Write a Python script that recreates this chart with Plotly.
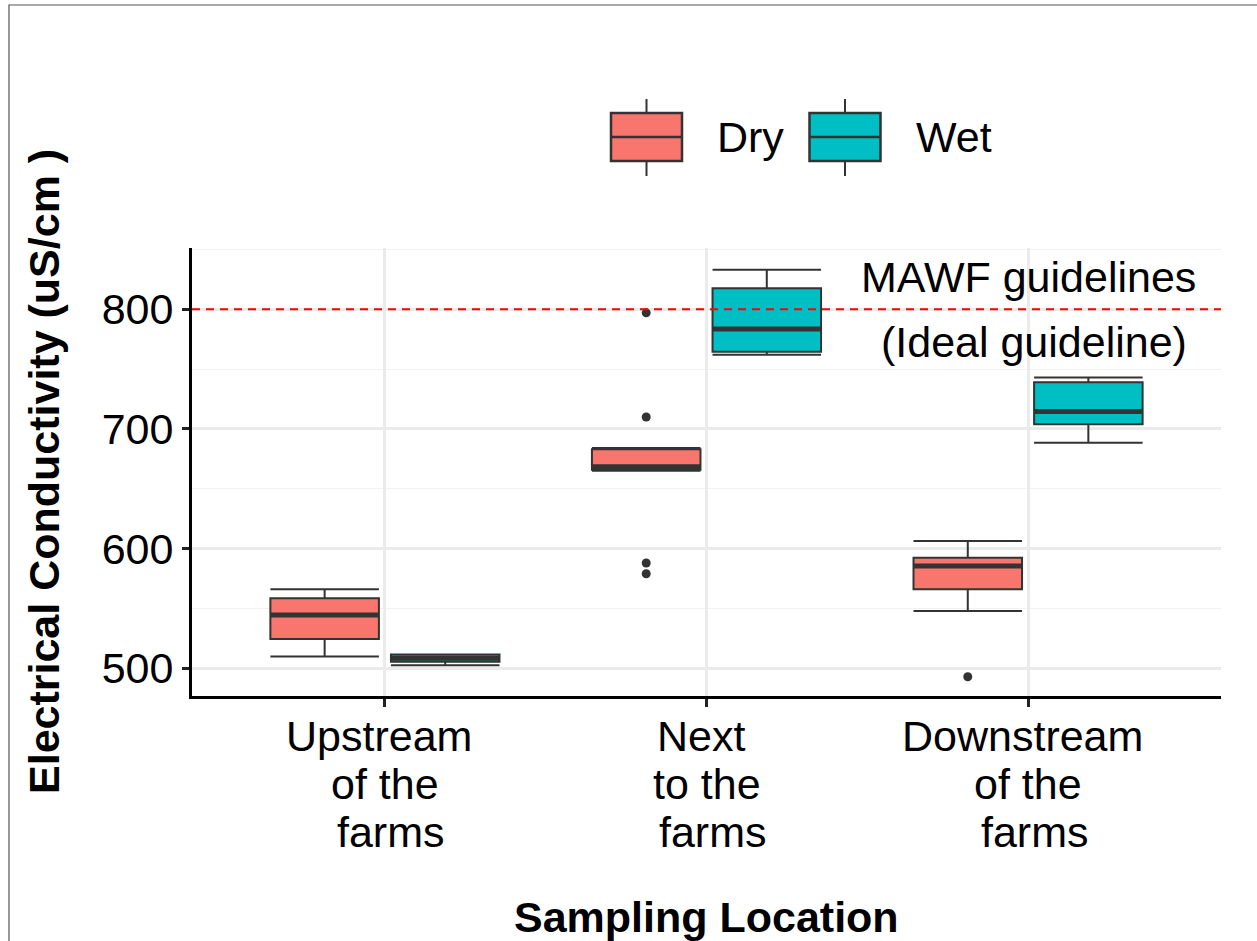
import plotly.graph_objects as go

# Sampling locations (x categories); each label is split into lines below
CATEGORIES = ["Upstream \nof the\n farms", "Next \nto the\n farms", "Downstream \nof the\n farms"]
SEASONS = ["Dry", "Wet"]

# Five-number summaries of electrical conductivity (uS/cm) per location
DRY_LOWER = [510, 665, 548]
DRY_Q1 = [524.5, 666, 566]
DRY_MEDIAN = [544.5, 668.5, 585.5]
DRY_Q3 = [558.5, 683, 592.5]
DRY_UPPER = [566, 684, 606.5]
DRY_OUTLIERS = [[], [797, 710, 588, 579], [493]]

WET_LOWER = [502.5, 762, 688.5]
WET_Q1 = [505.5, 764.5, 704]
WET_MEDIAN = [508.5, 783.5, 714.5]
WET_Q3 = [511.5, 817.5, 739]
WET_UPPER = [511.5, 833, 743]
WET_OUTLIERS = [[], [], []]

GUIDELINE = 800
GUIDELINE_LABELS = ["MAWF guidelines", "\u00a0(Ideal guideline)"]
GUIDELINE_LABEL_Y = [827, 773]
GUIDELINE_LABEL_X = 3

Y_TICKS = [500, 600, 700, 800]
Y_RANGE = [476.9, 851.2]

SEASON_COLORS = {"Dry": "#F8766D", "Wet": "#00BFC4"}
EDGE = "#333333"
FONT = "Liberation Sans, Arial, sans-serif"
FS = 43

DODGE = 0.1875
BOX_W = 0.3375

# plot-area geometry in pixels (used for layout-only items such as the legend)
W, H = 1257, 941
PL, PR, PT, PB = 192, 1221, 248, 696


def px_x(px):
    return (px - PL) / (PR - PL)


def px_y(py):
    return (PB - py) / (PB - PT)


series = {
    "Dry": dict(lower=DRY_LOWER, q1=DRY_Q1, med=DRY_MEDIAN, q3=DRY_Q3, upper=DRY_UPPER, out=DRY_OUTLIERS),
    "Wet": dict(lower=WET_LOWER, q1=WET_Q1, med=WET_MEDIAN, q3=WET_Q3, upper=WET_UPPER, out=WET_OUTLIERS),
}

fig = go.Figure()
positions = list(range(1, len(CATEGORIES) + 1))

for si, season in enumerate(SEASONS):
    s = series[season]
    offset = -DODGE if si == 0 else DODGE
    xs = [p + offset for p in positions]
    fig.add_trace(go.Box(
        x=xs, q1=s["q1"], median=s["med"], q3=s["q3"],
        lowerfence=s["lower"], upperfence=s["upper"],
        width=BOX_W, whiskerwidth=1, boxpoints=False,
        fillcolor=SEASON_COLORS[season],
        line=dict(color=EDGE, width=2),
        name=season, showlegend=False, hoverinfo="skip",
    ))
    # thicker median bars
    mx, my = [], []
    for x, m in zip(xs, s["med"]):
        mx += [x - BOX_W / 2, x + BOX_W / 2, None]
        my += [m, m, None]
    fig.add_trace(go.Scatter(x=mx, y=my, mode="lines",
                             line=dict(color=EDGE, width=5),
                             showlegend=False, hoverinfo="skip"))
    # outlying points
    ox, oy = [], []
    for x, pts in zip(xs, s["out"]):
        ox += [x] * len(pts)
        oy += pts
    if oy:
        fig.add_trace(go.Scatter(x=ox, y=oy, mode="markers",
                                 marker=dict(color=EDGE, size=9),
                                 showlegend=False, hoverinfo="skip"))

shapes = []
annotations = []

# guideline
shapes.append(dict(type="line", xref="paper", x0=0, x1=1, yref="y", y0=GUIDELINE, y1=GUIDELINE,
                   line=dict(color="#FF0000", width=2, dash="8px,6px"), layer="above"))
for txt, yv in zip(GUIDELINE_LABELS, GUIDELINE_LABEL_Y):
    annotations.append(dict(text=txt, x=GUIDELINE_LABEL_X, y=yv, xref="x", yref="y",
                            xanchor="center", yanchor="middle", showarrow=False,
                            font=dict(size=FS, color="black", family=FONT)))

# multi-line category labels
LINE_CENTERS = [736, 784, 832]
for p, cat in zip(positions, CATEGORIES):
    for line, cy in zip(cat.split("\n"), LINE_CENTERS):
        annotations.append(dict(text=line.replace(" ", "\u00a0") if line.strip() != line else line,
                                x=p, xref="x", y=0, yref="paper", yshift=-(cy - PB),
                                xanchor="center", yanchor="middle", showarrow=False,
                                font=dict(size=FS, color="black", family=FONT)))

# axis titles
annotations.append(dict(text="<b>Sampling Location</b>", x=0.5, xref="paper", y=0, yref="paper",
                        yshift=-(917 - PB), xanchor="center", yanchor="middle", showarrow=False,
                        font=dict(size=FS, color="black", family=FONT)))
annotations.append(dict(text="<b>Electrical Conductivity (uS/cm )</b>", textangle=-90,
                        x=px_x(44), xref="paper", y=0.5, yref="paper",
                        xanchor="center", yanchor="middle", showarrow=False,
                        font=dict(size=FS, color="black", family=FONT)))

# legend keys
KEY_LEFT = {"Dry": 611, "Wet": 809.5}
KEY_W, KEY_TOP, KEY_BOT, KEY_MID = 71, 113, 161, 137
WHISK_TOP, WHISK_BOT = 99, 176
for season in SEASONS:
    x0 = KEY_LEFT[season]
    xc = x0 + KEY_W / 2
    for ya, yb in [(WHISK_TOP, KEY_TOP), (KEY_BOT, WHISK_BOT)]:
        shapes.append(dict(type="line", xref="paper", yref="paper",
                           x0=px_x(xc), x1=px_x(xc), y0=px_y(ya), y1=px_y(yb),
                           line=dict(color=EDGE, width=2)))
    shapes.append(dict(type="rect", xref="paper", yref="paper",
                       x0=px_x(x0), x1=px_x(x0 + KEY_W), y0=px_y(KEY_BOT), y1=px_y(KEY_TOP),
                       fillcolor=SEASON_COLORS[season], line=dict(color=EDGE, width=2.5)))
    shapes.append(dict(type="line", xref="paper", yref="paper",
                       x0=px_x(x0), x1=px_x(x0 + KEY_W), y0=px_y(KEY_MID), y1=px_y(KEY_MID),
                       line=dict(color=EDGE, width=2.5)))
    annotations.append(dict(text=season, x=px_x(x0 + KEY_W + 33), xref="paper",
                            y=px_y(KEY_MID), yref="paper", xanchor="left", yanchor="middle",
                            showarrow=False, font=dict(size=FS, color="black", family=FONT)))

# thin outer frame
shapes.append(dict(type="rect", xref="paper", yref="paper",
                   x0=px_x(9), x1=px_x(W + 50), y0=px_y(H + 50), y1=px_y(5),
                   line=dict(color="#555555", width=1.2), fillcolor="rgba(0,0,0,0)", layer="below"))

fig.update_layout(
    width=W, height=H,
    margin=dict(l=PL, r=W - PR, t=PT, b=H - PB, pad=0),
    paper_bgcolor="white", plot_bgcolor="white",
    boxmode="overlay", showlegend=False,
    font=dict(family=FONT, size=FS, color="black"),
    shapes=shapes, annotations=annotations,
    xaxis=dict(range=[0.4, 3.6], tickvals=positions, showticklabels=False,
               showgrid=True, gridcolor="#EBEBEB", gridwidth=2.5, zeroline=False,
               showline=True, linecolor="black", linewidth=3,
               ticks="outside", ticklen=8, tickwidth=2.5, tickcolor="#222222"),
    yaxis=dict(range=Y_RANGE, tickvals=Y_TICKS, showgrid=True, gridcolor="#EBEBEB", gridwidth=2.5,
               zeroline=False, showline=True, linecolor="black", linewidth=3,
               ticks="outside", ticklen=7, tickwidth=2.5, tickcolor="#222222",
               tickfont=dict(size=FS, color="black", family=FONT),
               minor=dict(tickvals=[550, 650, 750, 850], showgrid=True, gridcolor="#F2F2F2",
                          gridwidth=1.3, ticks="")),
)

fig.write_html("out.html")
